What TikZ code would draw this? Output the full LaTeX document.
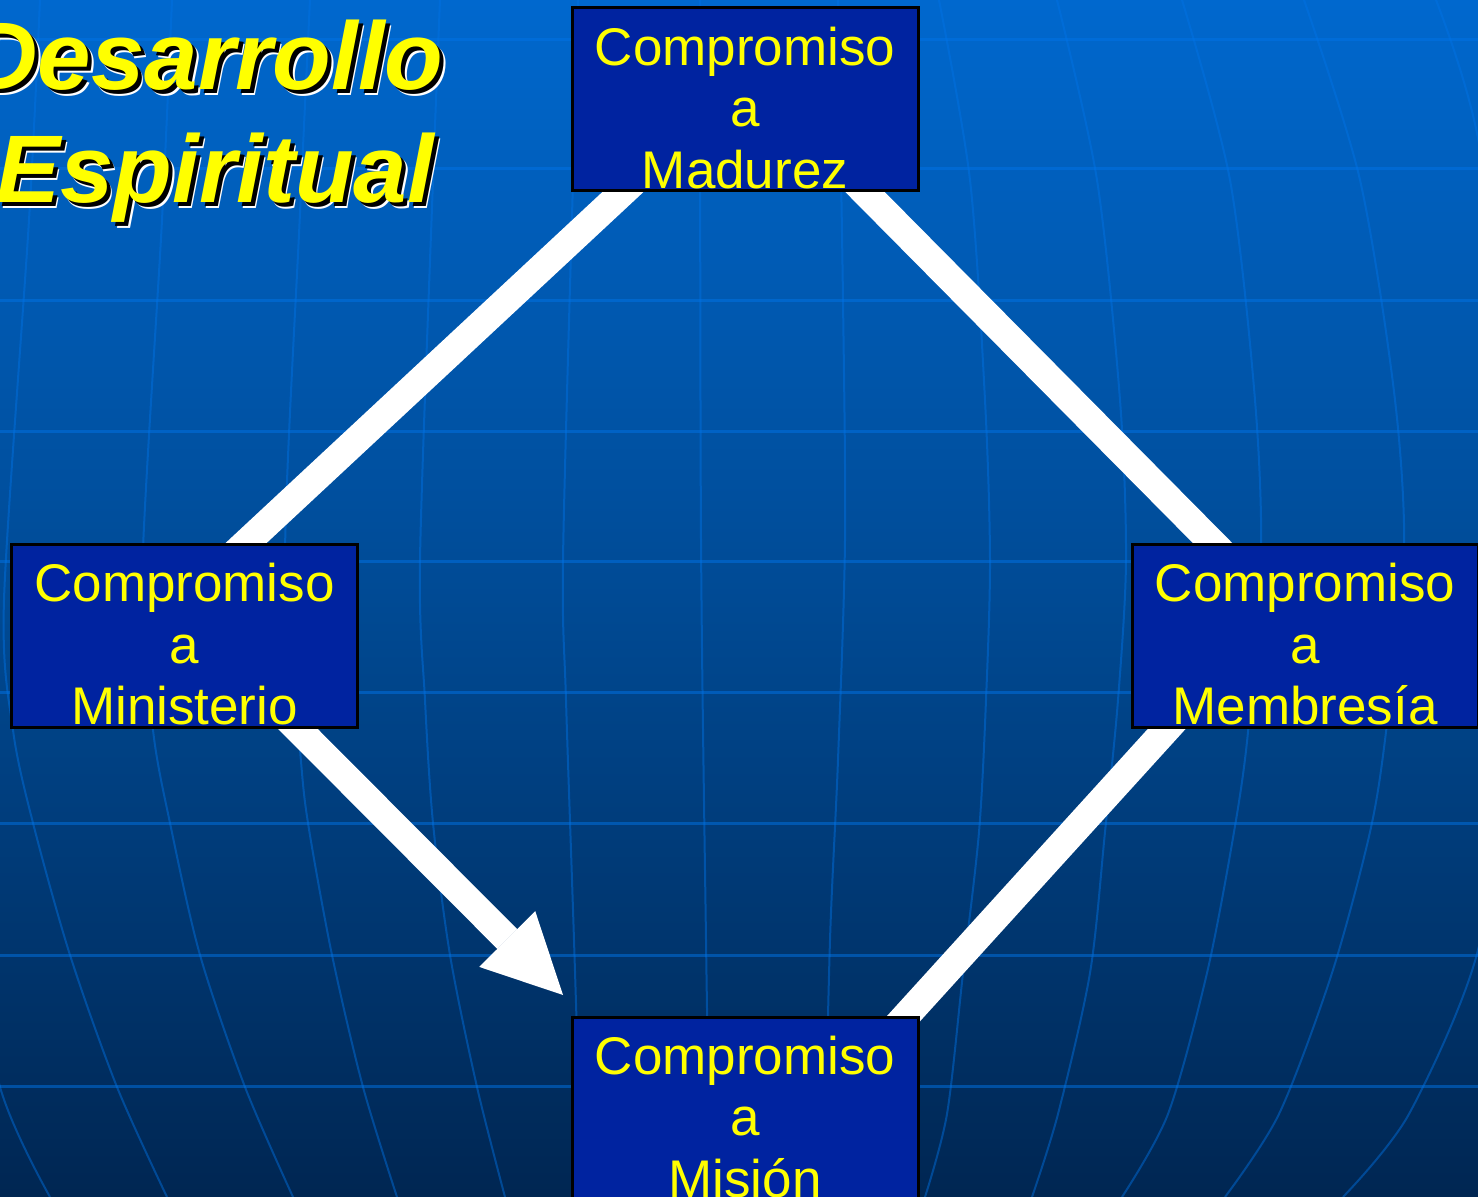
\documentclass[tikz,border=0pt]{standalone}
\usepackage{fontspec}
\setmainfont{Liberation Sans}
\usetikzlibrary{arrows.meta,calc}
\pgfdeclarelayer{bottom}
\pgfdeclarelayer{mid}
\pgfsetlayers{bottom,mid,main}
\definecolor{boxblue}{RGB}{0,35,160}
\definecolor{titleyellow}{RGB}{255,255,0}
\definecolor{gridblue}{RGB}{0,115,230}
\definecolor{bgtop}{RGB}{0,104,206}
\definecolor{bgmid}{RGB}{0,74,148}
\definecolor{bgbot}{RGB}{0,38,82}
\begin{document}
\begin{tikzpicture}[x=0.5pt,y=-0.5pt,
  cbox/.style={draw=black,line width=1.5pt,fill=boxblue,text=titleyellow,
    minimum width=173pt,minimum height=91.5pt,inner sep=0pt,outer sep=0pt,
    align=center,font=\fontsize{26.5}{30.75}\selectfont},
  conn/.style={draw=white,line width=14pt,shorten <=-15pt,shorten >=-15pt},
  arr/.style={draw=white,line width=14pt,shorten <=-15pt,
    -{Triangle[length=39.5pt,width=39.5pt,line width=0pt]}},
  hline/.style={draw=gridblue,opacity=0.5,line width=1.5pt},
  meridian/.style={draw=gridblue,opacity=0.45,line width=1pt},
  ttl/.style={font=\fontsize{48}{56}\selectfont\bfseries\itshape,inner sep=0pt,anchor=base}
]
\useasboundingbox (0,0) rectangle (1478,1197);

\begin{pgfonlayer}{bottom}
\clip (0,0) rectangle (1478,1197);
\shade[top color=bgtop,bottom color=bgbot,middle color=bgmid] (0,0) rectangle (1478,1197);
\foreach \yy in {40,169,301,432,562,692,823,955,1086}
  \draw[hline] (0,\yy) -- (1478,\yy);
\draw[meridian] plot[smooth] coordinates {(700,0) (701,540) (706,940) (710,1197)};
\draw[meridian] plot[smooth] coordinates {(838,0) (843,300) (845,540) (838,760) (830,940) (824,1197)};
\draw[meridian] plot[smooth] coordinates {(578,0) (573,180) (563,560) (566,700) (574,940) (582,1197)};
\draw[meridian] plot[smooth] coordinates {(440,0) (433,180) (420,560) (425,700) (433,823) (450,955) (477,1087) (505,1197)};
\draw[meridian] plot[smooth] coordinates {(310,0) (300,213) (285,560) (300,750) (308,823) (332,955) (363,1087) (397,1197)};
\draw[meridian] plot[smooth] coordinates {(172,0) (162,220) (142,580) (153,730) (170,823) (200,955) (245,1087) (293,1197)};
\draw[meridian] plot[smooth] coordinates {(40,0) (29,220) (4,600) (13,730) (33,823) (70,955) (117,1087) (167,1197)};
\draw[meridian] plot[smooth] coordinates {(-40,880) (0,1087) (50,1197)};
\draw[meridian] plot[smooth] coordinates {(939,0) (970,180) (985,400) (990,560) (986,700) (979,832) (963,973) (947,1114) (925,1197)};
\draw[meridian] plot[smooth] coordinates {(1057,0) (1097,180) (1120,400) (1126,560) (1118,700) (1105,832) (1090,973) (1058,1114) (1032,1197)};
\draw[meridian] plot[smooth] coordinates {(1182,0) (1230,180) (1255,400) (1261,560) (1248,732) (1234,832) (1207,973) (1168,1114) (1122,1197)};
\draw[meridian] plot[smooth] coordinates {(1304,0) (1360,180) (1395,400) (1404,560) (1386,732) (1370,832) (1332,973) (1279,1114) (1225,1197)};
\draw[meridian] plot[smooth] coordinates {(1436,0) (1480,150) (1505,450) (1500,750) (1478,950) (1409,1114) (1343,1197)};
\end{pgfonlayer}

% title
\node[ttl,text=white] (t1w) at (211.5,95.5) {Desarrollo};
\node[ttl,text=black] (t1k) at (210,94) {Desarrollo};
\node[ttl,text=titleyellow] (t1) at (206,90) {Desarrollo};
\node[ttl,text=white] (t2w) at (220.5,208.5) {Espiritual};
\node[ttl,text=black] (t2k) at (219,207) {Espiritual};
\node[ttl,text=titleyellow] (t2) at (215,203) {Espiritual};

% boxes
\node[cbox] (mad) at (745,99.5) {\rule{0pt}{27.3pt}Compromiso\\a\\Madurez};
\node[cbox] (mini) at (184.5,636) {\rule{0pt}{27.3pt}Compromiso\\a\\Ministerio};
\node[cbox] (memb) at (1305,636) {\rule{0pt}{27.3pt}Compromiso\\a\\Membresía};
\node[cbox] (mis) at (745,1108.5) {\rule{0pt}{27.3pt}Compromiso\\a\\Misión};
\coordinate (tip) at ($(mis.north west)+(-9,-22)$);

% connectors
\begin{pgfonlayer}{mid}
\draw[conn] ($(mad.south west)+(52,0)$) -- ($(mini.north west)+(233,0)$);
\draw[conn] ($(mad.south west)+(292,0)$) -- ($(memb.north west)+(82,0)$);
\draw[conn] ($(memb.south west)+(36,0)$) -- ($(mis.north west)+(333,0)$);
\draw[arr] ($(mini.south west)+(285,0)$) -- (tip);
\end{pgfonlayer}
\end{tikzpicture}
\end{document}
